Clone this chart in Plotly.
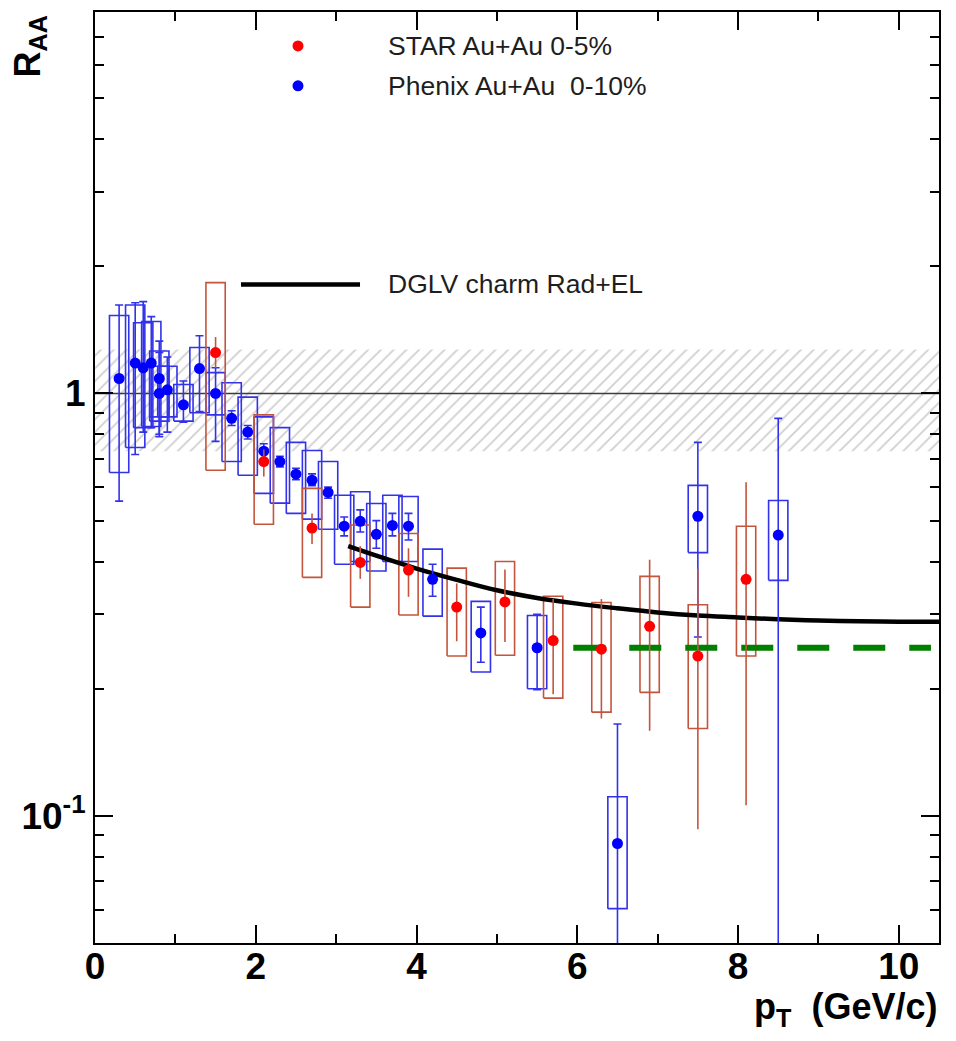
import plotly.graph_objects as go
import math

# ---------------- data ----------------
# PHENIX Au+Au 0-10%
phx_pt      = [0.3, 0.5, 0.6, 0.7, 0.8, 0.8, 0.9, 1.1, 1.3, 1.5, 1.7, 1.9, 2.1, 2.3, 2.5, 2.7, 2.9, 3.1, 3.3, 3.5, 3.7, 3.9, 4.2, 4.8, 5.5, 6.5, 7.5, 8.5]
phx_raa     = [1.085, 1.18, 1.15, 1.18, 1.085, 1.0, 1.02, 0.94, 1.145, 1.0, 0.873, 0.81, 0.73, 0.69, 0.644, 0.623, 0.583, 0.485, 0.498, 0.464, 0.487, 0.485, 0.363, 0.271, 0.25, 0.086, 0.512, 0.462]
phx_stat_lo = [0.556, 0.717, 0.81, 0.83, 0.79, 0.80, 0.81, 0.855, 0.906, 0.77, 0.84, 0.78, 0.70, 0.67, 0.625, 0.605, 0.565, 0.46, 0.47, 0.43, 0.46, 0.45, 0.331, 0.231, 0.199, 0.03, 0.265, 0.03]
phx_stat_hi = [1.62, 1.64, 1.65, 1.52, 1.33, 1.25, 1.22, 1.07, 1.37, 1.15, 0.91, 0.84, 0.76, 0.71, 0.665, 0.645, 0.60, 0.51, 0.53, 0.50, 0.52, 0.52, 0.394, 0.312, 0.30, 0.165, 0.766, 0.873]
phx_sys_lo  = [0.65, 0.745, 0.83, 0.835, 0.88, 0.86, 0.88, 0.86, 0.90, 0.89, 0.69, 0.64, 0.58, 0.55, 0.52, 0.504, 0.477, 0.394, 0.40, 0.38, 0.40, 0.40, 0.297, 0.219, 0.20, 0.0603, 0.42, 0.361]
phx_sys_hi  = [1.53, 1.62, 1.47, 1.48, 1.26, 1.16, 1.16, 1.05, 1.285, 1.12, 1.06, 0.98, 0.88, 0.83, 0.766, 0.733, 0.69, 0.574, 0.585, 0.549, 0.574, 0.57, 0.428, 0.322, 0.298, 0.111, 0.606, 0.558]

# STAR Au+Au 0-5%
star_pt      = [1.5, 2.1, 2.7, 3.3, 3.9, 4.5, 5.1, 5.7, 6.3, 6.9, 7.5, 8.1]
star_raa     = [1.25, 0.69, 0.48, 0.398, 0.382, 0.312, 0.321, 0.26, 0.248, 0.281, 0.239, 0.363]
star_stat_lo = [1.15, 0.636, 0.44, 0.364, 0.33, 0.259, 0.258, 0.194, 0.17, 0.159, 0.093, 0.106]
star_stat_hi = [1.36, 0.737, 0.52, 0.435, 0.43, 0.355, 0.383, 0.326, 0.326, 0.404, 0.384, 0.616]
star_sys_lo  = [0.658, 0.49, 0.367, 0.312, 0.299, 0.239, 0.24, 0.19, 0.176, 0.196, 0.161, 0.239]
star_sys_hi  = [1.83, 0.89, 0.596, 0.488, 0.466, 0.386, 0.40, 0.331, 0.32, 0.369, 0.316, 0.485]

# DGLV charm Rad+EL curve
dglv_pt  = [3.15, 3.5, 4.0, 4.5, 5.0, 5.5, 6.0, 6.5, 7.0, 7.5, 8.0, 8.5, 9.0, 9.5, 10.0, 10.5]
dglv_raa = [0.435, 0.413, 0.385, 0.362, 0.342, 0.328, 0.318, 0.31, 0.303, 0.298, 0.295, 0.292, 0.29, 0.289, 0.288, 0.288]

# green dashed level
green_pt  = [5.95, 10.4]
green_raa = [0.25, 0.25]

# normalisation band around unity
band_pt = [0.0, 10.5]
band_lo = 0.73
band_hi = 1.27
unity = 1.0

x_range = [0, 10.5]
y_range = [0.05, 8.0]
x_major = [0, 2, 4, 6, 8, 10]
x_minor = [1, 3, 5, 7, 9]
y_major = [0.1, 1]
y_major_text = ["10<sup>-1</sup>", "1"]
y_minor = [0.06, 0.07, 0.08, 0.09, 0.2, 0.3, 0.4, 0.5, 0.6, 0.7, 0.8, 0.9, 2, 3, 4, 5, 6, 7]

# ---------------- style ----------------
BLUE = "rgb(0,0,255)"
BLUE_BOX = "rgb(50,50,235)"
RED = "rgb(255,0,0)"
RED_BOX = "rgb(195,85,60)"
HW = 0.12  # half width of systematic boxes (GeV/c)


def boxes(xs, lo, hi, hw):
    X, Y = [], []
    for x, l, h in zip(xs, lo, hi):
        X += [x - hw, x + hw, x + hw, x - hw, x - hw, None]
        Y += [l, l, h, h, l, None]
    return X, Y


fig = go.Figure()

# hatched band
fig.add_trace(go.Scatter(
    x=[band_pt[0], band_pt[1], band_pt[1], band_pt[0], band_pt[0]],
    y=[band_lo, band_lo, band_hi, band_hi, band_lo],
    mode="lines", line=dict(width=0, color="rgba(0,0,0,0)"),
    fill="toself", fillcolor="rgba(0,0,0,0)",
    fillpattern=dict(shape="/", fgcolor="rgb(160,160,160)", bgcolor="rgba(255,255,255,0)",
                     size=9, solidity=0.2),
    hoverinfo="skip", showlegend=False))

# line at unity
fig.add_trace(go.Scatter(x=band_pt, y=[unity, unity], mode="lines",
                         line=dict(color="rgb(60,60,60)", width=1.5),
                         hoverinfo="skip", showlegend=False))

# systematic boxes
bx, by = boxes(phx_pt, phx_sys_lo, phx_sys_hi, HW)
fig.add_trace(go.Scatter(x=bx, y=by, mode="lines", line=dict(color=BLUE_BOX, width=1.6),
                         hoverinfo="skip", showlegend=False))
rx, ry = boxes(star_pt, star_sys_lo, star_sys_hi, HW)
fig.add_trace(go.Scatter(x=rx, y=ry, mode="lines", line=dict(color=RED_BOX, width=1.6),
                         hoverinfo="skip", showlegend=False))

# DGLV curve
fig.add_trace(go.Scatter(x=dglv_pt, y=dglv_raa, mode="lines", line_shape="spline",
                         line=dict(color="black", width=4.5), showlegend=False))

# green dashed
fig.add_trace(go.Scatter(x=green_pt, y=green_raa, mode="lines",
                         line=dict(color="rgb(0,128,0)", width=6, dash="32px,24px"),
                         showlegend=False))

# PHENIX points
fig.add_trace(go.Scatter(
    x=phx_pt, y=phx_raa, mode="markers",
    marker=dict(color=BLUE, size=11),
    error_y=dict(type="data", symmetric=False,
                 array=[h - v for h, v in zip(phx_stat_hi, phx_raa)],
                 arrayminus=[v - l for l, v in zip(phx_stat_lo, phx_raa)],
                 color=BLUE_BOX, thickness=1.6, width=4),
    showlegend=False))

# STAR points
fig.add_trace(go.Scatter(
    x=star_pt, y=star_raa, mode="markers",
    marker=dict(color=RED, size=11),
    error_y=dict(type="data", symmetric=False,
                 array=[h - v for h, v in zip(star_stat_hi, star_raa)],
                 arrayminus=[v - l for l, v in zip(star_stat_lo, star_raa)],
                 color=RED_BOX, thickness=1.6, width=0),
    showlegend=False))

TICKFONT = dict(family="Liberation Sans, Arial", size=37, color="black", weight="bold")

fig.update_xaxes(
    range=x_range, showline=True, linewidth=2, linecolor="black", mirror="ticks",
    ticks="inside", ticklen=18, tickwidth=1.5, tickcolor="black",
    tickmode="array", tickvals=x_major, ticktext=[str(v) for v in x_major],
    tickfont=TICKFONT, showgrid=False, zeroline=False, ticklabelstandoff=-10,
    minor=dict(tickmode="array", tickvals=x_minor, ticks="inside", ticklen=9,
               tickwidth=1.5, tickcolor="black", showgrid=False))

fig.update_yaxes(
    type="log", range=[math.log10(y_range[0]), math.log10(y_range[1])],
    showline=True, linewidth=2, linecolor="black", mirror="ticks",
    ticks="inside", ticklen=18, tickwidth=1.5, tickcolor="black",
    tickmode="array", tickvals=y_major, ticktext=y_major_text,
    tickfont=TICKFONT, showgrid=False, zeroline=False,
    minor=dict(tickmode="array", tickvals=y_minor, ticks="inside", ticklen=9,
               tickwidth=1.5, tickcolor="black", showgrid=False))

LFONT = dict(family="Liberation Sans, Arial", size=26.5, color="rgb(30,30,30)")
TFONT = dict(family="Liberation Sans, Arial", size=36, color="black", weight="bold")

annotations = [
    dict(text="STAR Au+Au 0-5%", x=0.345, y=0.9636, xref="paper", yref="paper",
         xanchor="left", yanchor="middle", showarrow=False, font=LFONT),
    dict(text="Phenix Au+Au  0-10%", x=0.345, y=0.9207, xref="paper", yref="paper",
         xanchor="left", yanchor="middle", showarrow=False, font=LFONT),
    dict(text="DGLV charm Rad+EL", x=0.345, y=0.7074, xref="paper", yref="paper",
         xanchor="left", yanchor="middle", showarrow=False, font=LFONT),
    dict(text="R<sub>AA</sub>", x=-0.077, y=0.963, xref="paper", yref="paper",
         xanchor="center", yanchor="middle", textangle=-90, showarrow=False, font=TFONT),
    dict(text="p<sub>T</sub>  (GeV/c)", x=1.0, y=-0.044, xref="paper", yref="paper",
         xanchor="right", yanchor="top", showarrow=False, font=TFONT),
]

shapes = [
    dict(type="circle", xref="paper", yref="paper", xsizemode="pixel", ysizemode="pixel",
         xanchor=0.2405, yanchor=0.9636, x0=-5.5, x1=5.5, y0=-5.5, y1=5.5,
         fillcolor=RED, line=dict(width=0)),
    dict(type="circle", xref="paper", yref="paper", xsizemode="pixel", ysizemode="pixel",
         xanchor=0.2405, yanchor=0.9207, x0=-5.5, x1=5.5, y0=-5.5, y1=5.5,
         fillcolor=BLUE, line=dict(width=0)),
    dict(type="line", xref="paper", yref="paper", x0=0.173, x1=0.314, y0=0.7074, y1=0.7074,
         line=dict(color="black", width=4.5)),
]

# page body has an 8px default margin: the figure is sized so the plot frame
# lands at the same pixels as the reference
fig.update_layout(
    width=948, height=1033,
    margin=dict(l=87, r=17, t=2, b=98),
    paper_bgcolor="white", plot_bgcolor="white",
    annotations=annotations, shapes=shapes, showlegend=False,
)

fig.write_html("out.html")
